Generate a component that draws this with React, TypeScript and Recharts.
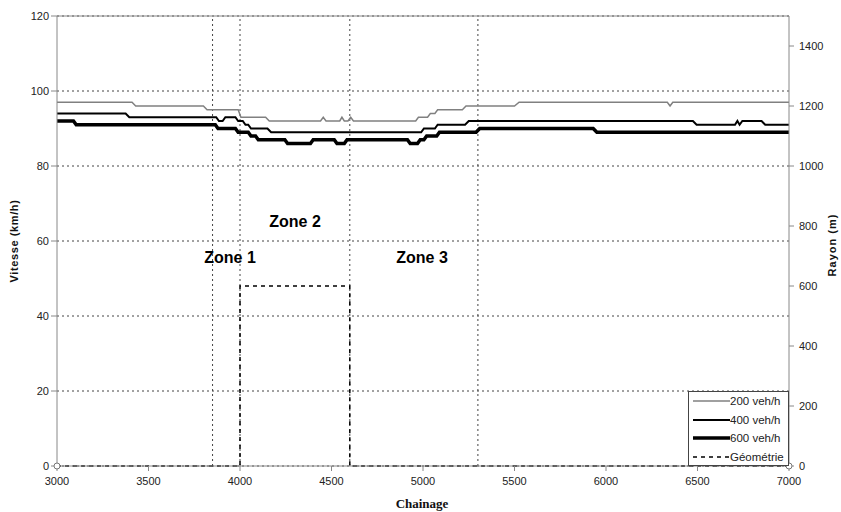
import { LineChart, Line, XAxis, YAxis, CartesianGrid, ReferenceLine, Legend } from 'recharts';

// chainage (m), speed (km/h)
const speed200: [number, number][] = [
  [3000, 97], [3410, 97], [3430, 96], [3800, 96], [3820, 95], [3990, 95], [4005, 93],
  [4140, 93], [4160, 92], [4440, 92], [4455, 93], [4470, 92], [4545, 92], [4557, 93],
  [4570, 92], [4590, 92], [4605, 93], [4620, 92], [4960, 92], [4975, 93], [5025, 93],
  [5040, 94], [5065, 94], [5080, 95], [5215, 95], [5235, 96], [5500, 96], [5525, 97],
  [6335, 97], [6350, 96], [6365, 97], [7000, 97],
];

const speed400: [number, number][] = [
  [3000, 94], [3375, 94], [3395, 93], [3870, 93], [3885, 92], [3905, 92], [3920, 93],
  [3975, 93], [3990, 92], [4015, 92], [4030, 91], [4045, 91], [4060, 90], [4150, 90],
  [4170, 89], [4990, 89], [5005, 90], [5065, 90], [5080, 91], [5230, 91], [5250, 92],
  [6475, 92], [6495, 91], [6705, 91], [6718, 92], [6730, 91], [6745, 92], [6850, 92],
  [6870, 91], [7000, 91],
];

const speed600: [number, number][] = [
  [3000, 92], [3090, 92], [3105, 91], [3865, 91], [3880, 90], [3975, 90], [3990, 89],
  [4045, 89], [4060, 88], [4085, 88], [4100, 87], [4245, 87], [4260, 86], [4385, 86],
  [4400, 87], [4515, 87], [4530, 86], [4570, 86], [4585, 87], [4915, 87], [4930, 86],
  [4970, 86], [4985, 87], [5005, 87], [5020, 88], [5075, 88], [5090, 89], [5290, 89],
  [5310, 90], [5930, 90], [5950, 89], [7000, 89],
];

// chainage (m), radius (m)
const geometry: [number, number][] = [
  [3000, 0], [4000, 0], [4000, 600], [4600, 600], [4600, 0], [7000, 0],
];

const chainageTicks = [3000, 3500, 4000, 4500, 5000, 5500, 6000, 6500, 7000];
const speedTicks = [0, 20, 40, 60, 80, 100, 120];
const radiusTicks = [0, 200, 400, 600, 800, 1000, 1200, 1400];
const zoneBounds = [3850, 4000, 4600, 5300];

const toRows = (pts: [number, number][]) => pts.map(([x, y]) => ({ x, y }));

const FONT = '"Liberation Sans", Arial, sans-serif';
const tickStyle = { fontSize: 11, fill: '#222', stroke: 'none', fontFamily: FONT };

const legendItems = [
  { label: '200 veh/h', color: '#808080', width: 1.5, dash: undefined },
  { label: '400 veh/h', color: '#000', width: 2, dash: undefined },
  { label: '600 veh/h', color: '#000', width: 3.5, dash: undefined },
  { label: 'Géométrie', color: '#000', width: 1.5, dash: '4 4' },
];

function LegendBox() {
  return (
    <div style={{ width: 99, height: 73, border: '1px solid #444', background: '#fff', fontFamily: FONT, fontSize: 11.5, color: '#222' }}>
      {legendItems.map((it) => (
        <div key={it.label} style={{ display: 'flex', alignItems: 'center', height: 18.5, paddingLeft: 4 }}>
          <svg width={37} height={8}>
            <line x1={0} y1={4} x2={37} y2={4} stroke={it.color} strokeWidth={it.width} strokeDasharray={it.dash} />
          </svg>
          <span style={{ marginLeft: 0 }}>{it.label}</span>
        </div>
      ))}
    </div>
  );
}

const endDot = (props: any) => {
  const { cx, cy, index } = props;
  if (index === 0 || index === geometry.length - 1) {
    return <circle key={index} cx={cx} cy={cy} r={3} fill="#fff" stroke="#777" strokeWidth={1} />;
  }
  return <g key={index} />;
};

const zoneText = { fontSize: 16, fontWeight: 'bold', fill: '#000', fontFamily: FONT, textAnchor: 'middle' as const };
const axisTitle = { fontSize: 11, fontWeight: 'bold', fill: '#111', fontFamily: FONT, textAnchor: 'middle' as const, letterSpacing: 0.6 };

export default function App() {
  return (
    <div style={{ position: 'absolute', left: 0, top: 0, width: 841, height: 512, background: '#fff' }}>
      <LineChart width={841} height={512} margin={{ top: 16, right: 0, bottom: 0, left: 0 }}>
        <CartesianGrid yAxisId="left" vertical={false} stroke="#444" strokeDasharray="2 3" />
        <XAxis
          dataKey="x"
          type="number"
          domain={[3000, 7000]}
          ticks={chainageTicks}
          allowDuplicatedCategory={false}
          height={46}
          tickSize={5}
          tickMargin={6}
          tick={tickStyle}
          stroke="#888"
        />
        <YAxis
          yAxisId="left"
          domain={[0, 120]}
          ticks={speedTicks}
          width={57}
          tickSize={6}
          tick={tickStyle}
          stroke="#888"
        />
        <YAxis
          yAxisId="right"
          orientation="right"
          domain={[0, 1500]}
          ticks={radiusTicks}
          width={52}
          tickSize={5}
          tickMargin={5}
          tick={tickStyle}
          stroke="#888"
        />
        <ReferenceLine yAxisId="left" y={120} stroke="#888" />
        {zoneBounds.map((c) => (
          <ReferenceLine key={c} yAxisId="left" x={c} stroke="#444" strokeDasharray="2 3" />
        ))}
        <Line yAxisId="left" data={toRows(speed200)} dataKey="y" stroke="#808080" strokeWidth={1.5} dot={false} isAnimationActive={false} name="200 veh/h" />
        <Line yAxisId="left" data={toRows(speed400)} dataKey="y" stroke="#000" strokeWidth={2} dot={false} isAnimationActive={false} name="400 veh/h" />
        <Line yAxisId="left" data={toRows(speed600)} dataKey="y" stroke="#000" strokeWidth={3.5} dot={false} isAnimationActive={false} name="600 veh/h" />
        <Line yAxisId="right" data={toRows(geometry)} dataKey="y" stroke="#000" strokeWidth={1.5} strokeDasharray="4 4" dot={endDot} isAnimationActive={false} name="Géométrie" />
        <Legend
          layout="vertical"
          align="center"
          verticalAlign="middle"
          content={() => <LegendBox />}
          wrapperStyle={{ position: 'absolute', left: 688, top: 391, width: 101, height: 75 }}
        />
        <text x={14} y={241} transform="rotate(-90 14 241)" dominantBaseline="central" style={axisTitle}>Vitesse (km/h)</text>
        <text x={832} y={245} transform="rotate(-90 832 245)" dominantBaseline="central" style={{ ...axisTitle, letterSpacing: 1 }}>Rayon (m)</text>
        <text x={422} y={508} style={{ fontSize: 13, fontWeight: 'bold', fill: '#111', fontFamily: '"Liberation Serif", "Times New Roman", serif', textAnchor: 'middle' }}>Chainage</text>
        <text x={295} y={227} style={zoneText}>Zone 2</text>
        <text x={230} y={263} style={zoneText}>Zone 1</text>
        <text x={422} y={263} style={zoneText}>Zone 3</text>
      </LineChart>
    </div>
  );
}
